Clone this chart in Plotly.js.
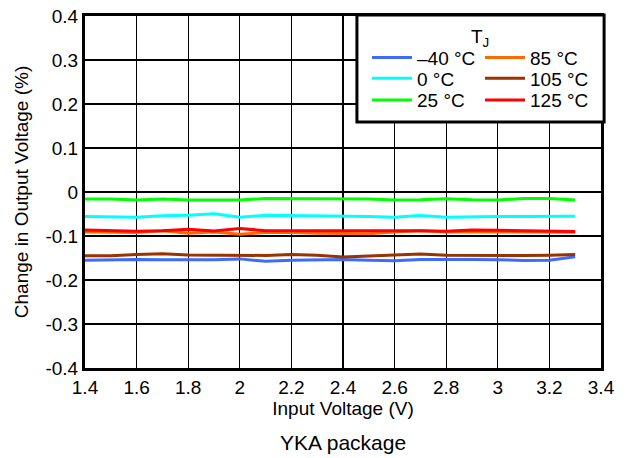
<!DOCTYPE html>
<html><head><meta charset="utf-8">
<script src="https://cdn.plot.ly/plotly-3.0.1.min.js"></script>
<style>html,body{margin:0;padding:0;background:#fff}#chart{width:626px;height:458px}</style>
</head><body><div id="chart"></div>
<script>
var inputVoltage = [1.4,1.5,1.6,1.7,1.8,1.9,2.0,2.1,2.2,2.3,2.4,2.5,2.6,2.7,2.8,2.9,3.0,3.1,3.2,3.3];
var seriesNames = ['–40 °C','0 °C','25 °C','85 °C','105 °C','125 °C'];
var tm40 = [-0.155,-0.1533,-0.1533,-0.154,-0.154,-0.154,-0.152,-0.1575,-0.155,-0.154,-0.1533,-0.155,-0.1565,-0.1533,-0.1525,-0.1533,-0.154,-0.1555,-0.155,-0.147];
var t0 = [-0.0557,-0.0557,-0.0572,-0.054,-0.053,-0.0497,-0.0572,-0.053,-0.0535,-0.054,-0.0535,-0.0557,-0.0572,-0.0535,-0.0572,-0.0557,-0.0557,-0.0557,-0.0557,-0.055];
var t25 = [-0.016,-0.016,-0.018,-0.016,-0.018,-0.018,-0.018,-0.015,-0.015,-0.015,-0.0145,-0.016,-0.018,-0.0176,-0.0153,-0.0176,-0.018,-0.015,-0.015,-0.018];
var t85 = [-0.0908,-0.092,-0.0923,-0.088,-0.0939,-0.0908,-0.096,-0.092,-0.092,-0.0939,-0.0939,-0.095,-0.0908,-0.088,-0.0908,-0.0908,-0.090,-0.0908,-0.0915,-0.0915];
var t105 = [-0.145,-0.145,-0.142,-0.1405,-0.143,-0.1435,-0.145,-0.1442,-0.142,-0.1435,-0.148,-0.146,-0.1435,-0.141,-0.1435,-0.1442,-0.1442,-0.1442,-0.1435,-0.142];
var t125 = [-0.0862,-0.0878,-0.089,-0.0878,-0.0847,-0.0885,-0.0832,-0.0878,-0.0878,-0.0878,-0.0878,-0.0862,-0.0862,-0.0878,-0.089,-0.0862,-0.087,-0.0885,-0.089,-0.090];
var xTickVals = [1.4,1.6,1.8,2.0,2.2,2.4,2.6,2.8,3.0,3.2,3.4];
var xTickText = ['1.4','1.6','1.8','2','2.2','2.4','2.6','2.8','3','3.2','3.4'];
var yTickVals = [0.4,0.3,0.2,0.1,0,-0.1,-0.2,-0.3,-0.4];
var yTickText = ['0.4','0.3','0.2','0.1','0','-0.1','-0.2','-0.3','-0.4'];

var colors = ['#3d6bff','#00ffff','#00ff00','#ff6a00','#993300','#ff0000'];
var ys = [tm40,t0,t25,t85,t105,t125];
var legendIds = ['legend','legend2','legend3','legend4','legend5','legend6'];
var traces = ys.map(function(y,i){
  return {x: inputVoltage, y: y, name: seriesNames[i], type:'scatter', mode:'lines',
    line:{color:colors[i], width:3}, legend: legendIds[i], showlegend:true};
});
var fam = 'Liberation Sans, Arial, sans-serif';
var colX = [0.5465, 0.7655];
var rowY = [0.8815, 0.823, 0.761];
var layout = {
  width:626, height:458,
  margin:{l:85, r:25, t:16, b:90},
  paper_bgcolor:'#fff', plot_bgcolor:'#fff',
  font: {family:fam, color:'#000', size:19},
  xaxis:{range:[1.4,3.4], tickvals:xTickVals, ticktext:xTickText, showgrid:true, gridcolor:'#000', gridwidth:1.2,
    zeroline:false, showline:true, mirror:true, linecolor:'#000', linewidth:3, ticks:'',
    tickfont:{size:19}, title:{text:'Input Voltage (V)', font:{size:19}, standoff:5}},
  yaxis:{range:[-0.4,0.4], tickvals:yTickVals, ticktext:yTickText, showgrid:true, gridcolor:'#000', gridwidth:1.2,
    zeroline:false, showline:true, mirror:true, linecolor:'#000', linewidth:3, ticks:'',
    tickfont:{size:19}, title:{text:'Change in Output Voltage (%)', font:{size:19}, standoff:12}},
  shapes:[{type:'rect', xref:'paper', yref:'paper', x0:0.527, x1:1.006, y0:0.699, y1:1.003,
    line:{color:'#000', width:3}, fillcolor:'#fff', layer:'above'}],
  annotations:[
    {text:'T<sub>J</sub>', xref:'paper', yref:'paper', x:0.7655, y:0.9375, xanchor:'center', yanchor:'middle',
      showarrow:false, font:{size:19}},
    {text:'YKA package', xref:'paper', yref:'paper', x:0.5, y:-0.213, xanchor:'center', yanchor:'middle',
      showarrow:false, font:{size:21}}]
};
legendIds.forEach(function(id,i){
  layout[id] = {x: colX[Math.floor(i/3)], xanchor:'left', y: rowY[i%3], yanchor:'middle', itemwidth:40,
    bgcolor:'rgba(0,0,0,0)', borderwidth:0, font:{size:19, family:fam, color:'#000'}};
});
Plotly.newPlot('chart', traces, layout, {displayModeBar:false, staticPlot:true});
</script></body></html>
